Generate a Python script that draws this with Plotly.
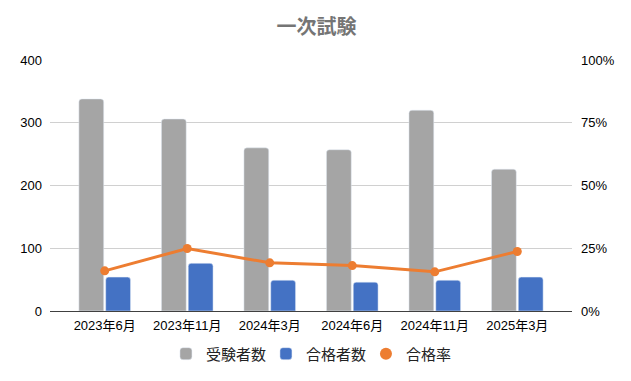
import plotly.graph_objects as go

categories = ["2023年6月", "2023年11月", "2024年3月", "2024年6月", "2024年11月", "2025年3月"]
examinees = [338, 306, 260, 257, 320, 226]
passers = [54, 76, 49, 46, 49, 54]
pass_rate = [0.160, 0.249, 0.192, 0.181, 0.156, 0.237]

FONT = "Liberation Sans, Noto Sans CJK JP, sans-serif"
GRAY = "#A5A5A5"
BLUE = "#4472C4"
ORANGE = "#ED7D31"

# page body has an 8px margin, so the figure is offset by (8, 8) on screen
OFF = 8

fig = go.Figure()
fig.add_trace(go.Bar(x=categories, y=examinees, name="受験者数", marker_color=GRAY, yaxis="y"))
fig.add_trace(go.Bar(x=categories, y=passers, name="合格者数", marker_color=BLUE, yaxis="y"))
fig.add_trace(go.Scatter(x=categories, y=pass_rate, name="合格率", mode="lines+markers",
                         line=dict(color=ORANGE, width=3), marker=dict(color=ORANGE, size=9),
                         yaxis="y2", showlegend=False))
fig.add_trace(go.Scatter(x=[None], y=[None], name="合格率", mode="markers",
                         marker=dict(color=ORANGE, size=12, symbol="circle"), yaxis="y2"))

fig.update_layout(
    width=631, height=381,
    paper_bgcolor="white", plot_bgcolor="white",
    margin=dict(l=48 - OFF, r=59 + OFF, t=59.5 - OFF, b=70 + OFF),
    font=dict(family=FONT, size=13, color="#000000"),
    title=dict(text="<b>一次試験</b>", x=(316.5 - OFF) / 631, xanchor="center",
               y=1 - (27 - OFF) / 381, yanchor="middle",
               font=dict(family=FONT, size=20, color="#757575")),
    barmode="group", bargap=0.35, bargroupgap=0.074, barcornerradius=3,
    xaxis=dict(range=[-0.663, 5.663], showline=True, linecolor="#404040", linewidth=1,
               showgrid=False, ticks="", tickfont=dict(size=13), ticklabelstandoff=2),
    yaxis=dict(range=[0, 400], dtick=100, showgrid=True, gridcolor="#D0D0D0", gridwidth=1,
               zeroline=False, showline=False, ticks="", tickfont=dict(size=13),
               ticklabelstandoff=7),
    yaxis2=dict(range=[0, 1], dtick=0.25, tickformat=".0%", overlaying="y", side="right",
                showgrid=False, zeroline=False, showline=False, ticks="",
                tickfont=dict(size=13), ticklabelstandoff=8),
    legend=dict(orientation="h", x=0.5095, xanchor="center", y=-0.171, yanchor="middle",
                entrywidth=55, entrywidthmode="pixels",
                font=dict(size=15, color="#222222"), bgcolor="rgba(0,0,0,0)"),
    showlegend=True,
)

fig.write_html("out.html")
